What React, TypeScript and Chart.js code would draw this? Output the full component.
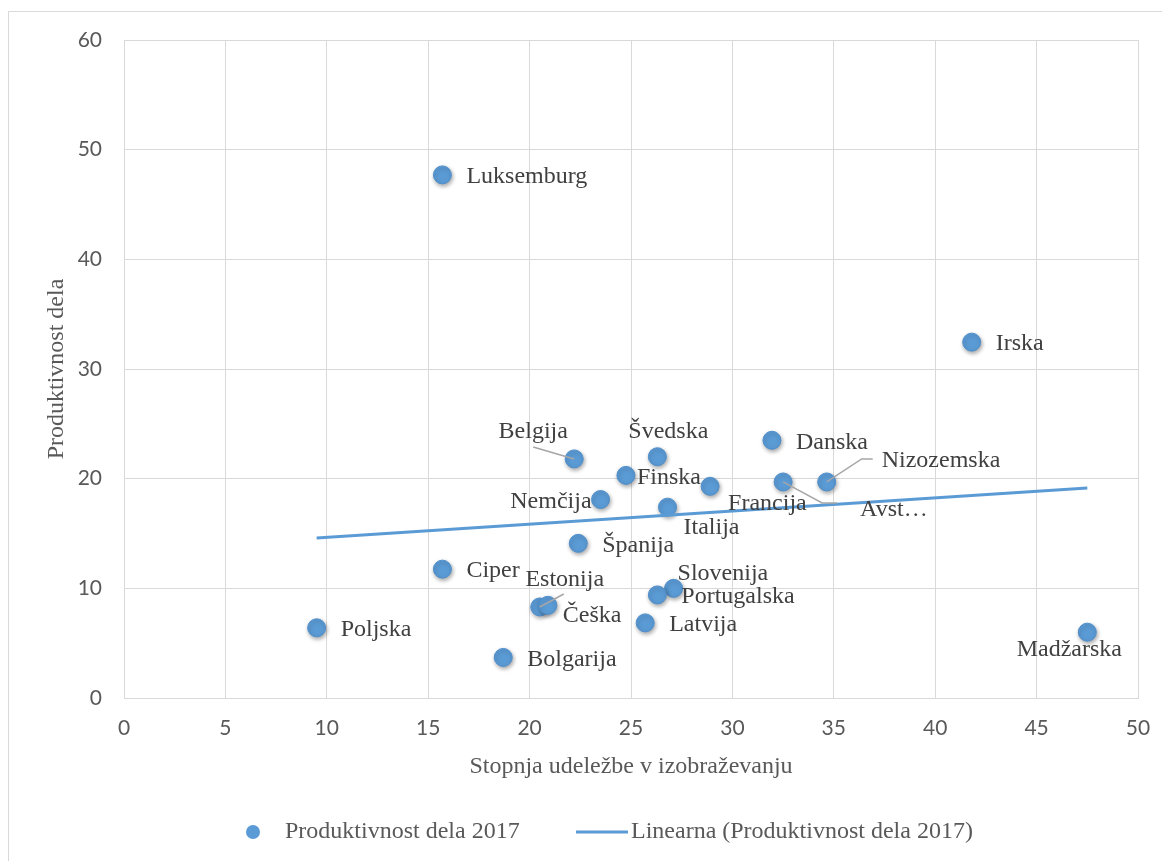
import React, { useEffect, useRef } from "react";
import { Chart, registerables } from "chart.js";

Chart.register(...registerables);

// Countries, their participation rate in education (x) and labour productivity (y)
const countries = [
  "Luksemburg", "Irska", "Danska", "Švedska", "Belgija", "Finska", "Nemčija",
  "Italija", "Francija", "Avstrija", "Nizozemska", "Španija", "Ciper", "Estonija",
  "Češka", "Slovenija", "Portugalska", "Latvija", "Bolgarija", "Poljska", "Madžarska",
];
const pointLabels = [
  "Luksemburg", "Irska", "Danska", "Švedska", "Belgija", "Finska", "Nemčija",
  "Italija", "Francija", "Avst…", "Nizozemska", "Španija", "Ciper", "Estonija",
  "Češka", "Slovenija", "Portugalska", "Latvija", "Bolgarija", "Poljska", "Madžarska",
];
const participation = [
  15.7, 41.8, 31.95, 26.3, 22.2, 24.75, 23.5,
  26.8, 28.9, 32.5, 34.65, 22.4, 15.7, 20.5,
  20.9, 27.1, 26.3, 25.7, 18.7, 9.5, 47.5,
];
const productivity = [
  47.7, 32.45, 23.5, 22.0, 21.8, 20.3, 18.1,
  17.4, 19.3, 19.7, 19.7, 14.1, 11.75, 8.3,
  8.45, 10.0, 9.4, 6.85, 3.7, 6.4, 6.0,
];

// Linear trend line end points
const trendX = [9.5, 47.5];
const trendY = [14.6, 19.15];

const xTickValues = [0, 5, 10, 15, 20, 25, 30, 35, 40, 45, 50];
const yTickValues = [0, 10, 20, 30, 40, 50, 60];

const seriesName = "Produktivnost dela 2017";
const trendName = "Linearna (Produktivnost dela 2017)";
const xTitle = "Stopnja udeležbe v izobraževanju";
const yTitle = "Produktivnost dela";

// Label placement around each marker (pixel offsets), with optional leader lines
type Placement = { dx: number; dy: number; align: CanvasTextAlign; leader?: number[][] };
const R: Placement = { dx: 24, dy: 2, align: "left" };
const placements: Record<string, Placement> = {
  Luksemburg: R,
  Irska: R,
  Danska: R,
  Švedska: { dx: 11, dy: -25, align: "center" },
  Belgija: { dx: -41, dy: -27, align: "center", leader: [[-41, -12], [0, 0]] },
  Finska: { dx: 11, dy: 2, align: "left" },
  Nemčija: { dx: -9, dy: 2, align: "right" },
  Italija: { dx: 16, dy: 21, align: "left" },
  Francija: { dx: 18, dy: 17, align: "left" },
  Avstrija: { dx: 77, dy: 28, align: "left", leader: [[0, 0], [39, 21], [54, 21]] },
  Nizozemska: { dx: 55, dy: -21, align: "left", leader: [[0, 0], [35, -23], [46, -23]] },
  Španija: R,
  Ciper: R,
  Estonija: { dx: 25, dy: -27, align: "center", leader: [[0, 0], [24, -13]] },
  Češka: { dx: 15, dy: 10, align: "left" },
  Slovenija: { dx: 4, dy: -15, align: "left" },
  Portugalska: R,
  Latvija: R,
  Bolgarija: R,
  Poljska: R,
  Madžarska: { dx: -18, dy: 18, align: "center" },
};

const BLUE = "#5B9BD5";
const GRID = "#d9d9d9";
const TEXT = "#595959";
const LABEL = "#404040";
const SERIF = "'Liberation Serif', 'Times New Roman', serif";
const SANS = "Lato, 'Open Sans', sans-serif";

const W = 1161;
const H = 852;

const shadowPlugin = {
  id: "markerShadow",
  beforeDatasetDraw(chart: any, args: any) {
    if (args.index !== 0) return;
    const ctx = chart.ctx;
    ctx.save();
    ctx.shadowColor = "rgba(0,0,0,0.35)";
    ctx.shadowBlur = 4;
    ctx.shadowOffsetX = 1;
    ctx.shadowOffsetY = 2;
  },
  afterDatasetDraw(chart: any, args: any) {
    if (args.index !== 0) return;
    chart.ctx.restore();
  },
};

const labelPlugin = {
  id: "pointLabels",
  afterDatasetsDraw(chart: any) {
    const ctx = chart.ctx;
    const meta = chart.getDatasetMeta(0);
    ctx.save();
    ctx.font = `24px ${SERIF}`;
    ctx.textBaseline = "middle";
    meta.data.forEach((el: any, i: number) => {
      const p = placements[countries[i]] || R;
      const { x, y } = el;
      if (p.leader) {
        ctx.strokeStyle = "#a6a6a6";
        ctx.lineWidth = 1.5;
        ctx.beginPath();
        p.leader.forEach(([lx, ly], k) => {
          if (k === 0) ctx.moveTo(x + lx, y + ly);
          else ctx.lineTo(x + lx, y + ly);
        });
        ctx.stroke();
      }
      ctx.fillStyle = LABEL;
      ctx.textAlign = p.align;
      ctx.fillText(pointLabels[i], x + p.dx, y + p.dy);
    });
    ctx.restore();
  },
};

const decorPlugin = {
  id: "titlesAndLegend",
  afterDraw(chart: any) {
    const ctx = chart.ctx;
    const area = chart.chartArea;
    ctx.save();
    ctx.fillStyle = TEXT;
    ctx.font = `24px ${SERIF}`;
    ctx.textBaseline = "middle";
    ctx.textAlign = "center";
    // axis titles
    ctx.fillText(xTitle, (area.left + area.right) / 2, 755);
    ctx.save();
    ctx.translate(48, (area.top + area.bottom) / 2);
    ctx.rotate(-Math.PI / 2);
    ctx.fillText(yTitle, 0, 0);
    ctx.restore();
    // legend
    const ly = 820;
    ctx.fillStyle = BLUE;
    ctx.beginPath();
    ctx.arc(244, ly, 7, 0, Math.PI * 2);
    ctx.fill();
    ctx.fillStyle = TEXT;
    ctx.textAlign = "left";
    ctx.fillText(seriesName, 276, ly);
    ctx.strokeStyle = BLUE;
    ctx.lineWidth = 3;
    ctx.beginPath();
    ctx.moveTo(567, ly);
    ctx.lineTo(619, ly);
    ctx.stroke();
    ctx.fillText(trendName, 622, ly);
    ctx.restore();
  },
};

export default function App() {
  const ref = useRef<HTMLCanvasElement | null>(null);

  useEffect(() => {
    document.documentElement.style.overflow = "hidden";
    document.body.style.overflow = "hidden";
    if (!ref.current) return;
    const chart = new Chart(ref.current, {
      type: "scatter",
      data: {
        datasets: [
          {
            label: seriesName,
            data: participation.map((x, i) => ({ x, y: productivity[i] })),
            backgroundColor: BLUE,
            borderColor: "#4f8fcc",
            borderWidth: 1,
            pointRadius: 9,
            pointHoverRadius: 9,
            order: 1,
          },
          {
            type: "line",
            label: trendName,
            data: trendX.map((x, i) => ({ x, y: trendY[i] })),
            borderColor: BLUE,
            borderWidth: 3,
            pointRadius: 0,
            showLine: true,
            fill: false,
            order: 0,
          } as any,
        ],
      },
      options: {
        animation: false,
        responsive: false,
        events: [],
        layout: { padding: { top: 28, right: 32, bottom: 0, left: 0 } },
        plugins: {
          legend: { display: false },
          tooltip: { enabled: false },
          title: { display: false },
        },
        scales: {
          x: {
            type: "linear",
            min: 0,
            max: 50,
            afterBuildTicks: (s: any) => {
              s.ticks = xTickValues.map((v) => ({ value: v }));
            },
            afterFit: (s: any) => {
              s.height = 166;
            },
            ticks: {
              color: TEXT,
              font: { family: SANS, size: 21 },
              padding: 18,
            },
            grid: { color: GRID, lineWidth: 1, drawTicks: false },
            border: { color: GRID, width: 1 },
          },
          y: {
            type: "linear",
            min: 0,
            max: 60,
            afterBuildTicks: (s: any) => {
              s.ticks = yTickValues.map((v) => ({ value: v }));
            },
            afterFit: (s: any) => {
              s.width = 115;
              s.paddingTop = 0;
              s.paddingBottom = 0;
            },
            ticks: {
              color: TEXT,
              font: { family: SANS, size: 21 },
              padding: 22,
            },
            grid: { color: GRID, lineWidth: 1, drawTicks: false },
            border: { color: GRID, width: 1 },
          },
        },
      },
      plugins: [shadowPlugin, labelPlugin, decorPlugin],
    });
    return () => chart.destroy();
  }, []);

  return (
    <div
      style={{
        position: "relative",
        top: 3,
        width: 1162,
        height: 853,
        borderLeft: `1px solid ${GRID}`,
        borderTop: `1px solid ${GRID}`,
        boxSizing: "border-box",
        background: "#fff",
      }}
    >
      <canvas ref={ref} width={W} height={H} style={{ display: "block" }} />
    </div>
  );
}
